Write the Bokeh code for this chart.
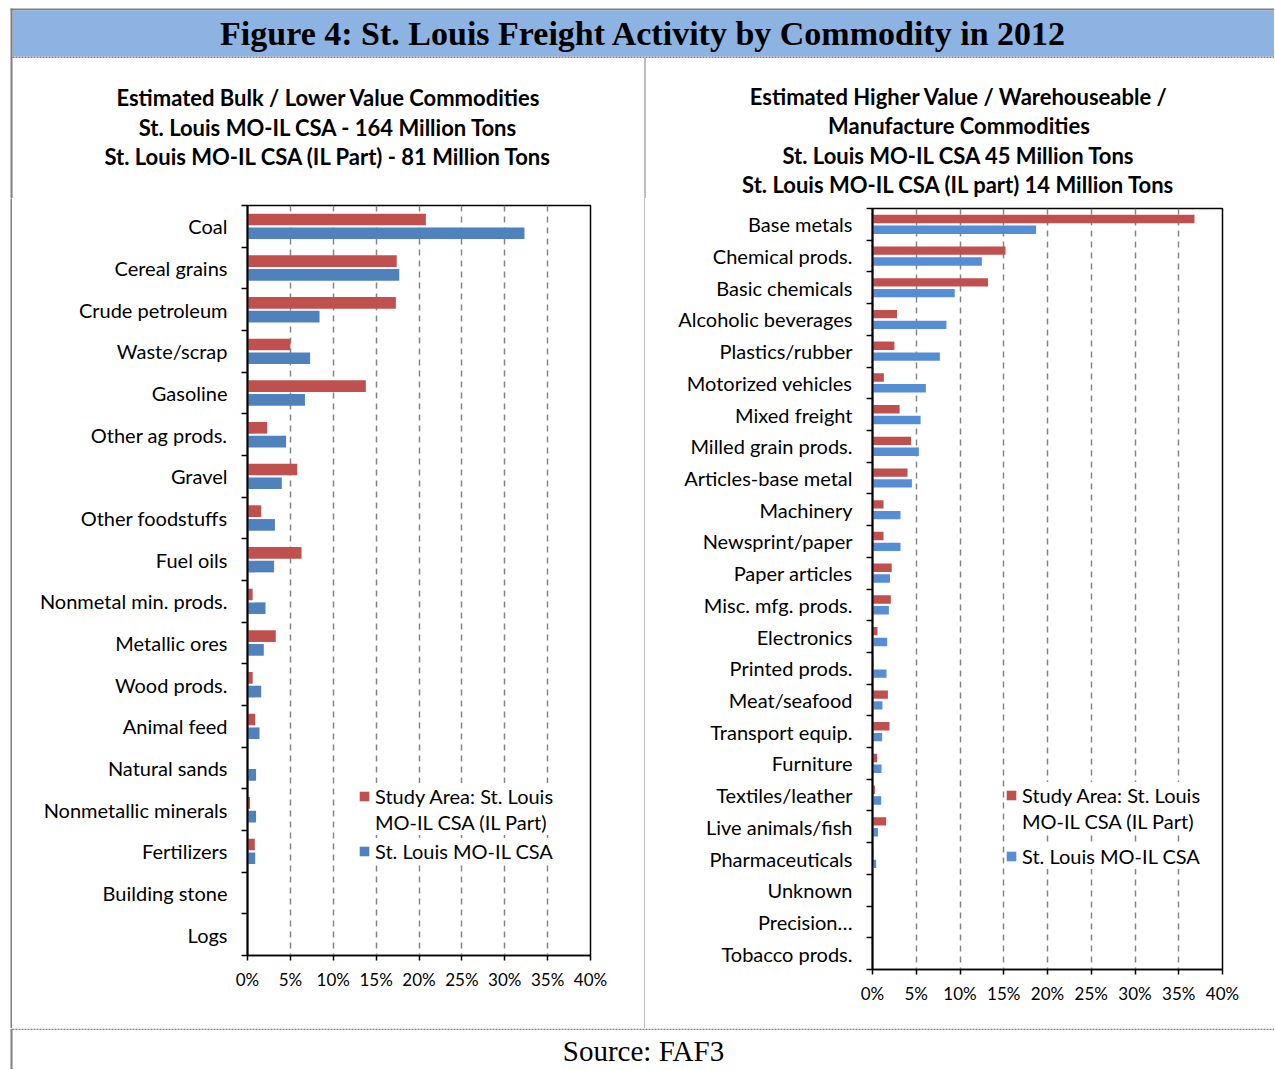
from bokeh.plotting import figure
from bokeh.models import (Range1d, FixedTicker, PrintfTickFormatter, ColumnDataSource,
                          Legend, LegendItem, Spacer)
from bokeh.layouts import column, row
from bokeh.core.properties import value
from bokeh.transform import dodge
from bokeh.embed import file_html
from bokeh.resources import INLINE

# ---------------- data ----------------
FIG_TITLE = "Figure 4: St. Louis Freight Activity by Commodity in 2012"
SOURCE = "Source: FAF3"
LEGEND_IL = ["Study Area: St. Louis", "MO-IL CSA (IL Part)"]
LEGEND_CSA = "St. Louis MO-IL CSA"

left_title = ["Estimated Bulk / Lower Value Commodities",
              "St. Louis MO-IL CSA - 164 Million Tons",
              "St. Louis MO-IL CSA (IL Part) - 81 Million Tons"]
left_cats = ["Coal", "Cereal grains", "Crude petroleum", "Waste/scrap", "Gasoline",
             "Other ag prods.", "Gravel", "Other foodstuffs", "Fuel oils",
             "Nonmetal min. prods.", "Metallic ores", "Wood prods.", "Animal feed",
             "Natural sands", "Nonmetallic minerals", "Fertilizers", "Building stone", "Logs"]
left_il = [20.8, 17.4, 17.3, 5.0, 13.8, 2.3, 5.8, 1.6, 6.3, 0.6, 3.3, 0.6, 0.9,
           0.05, 0.3, 0.85, 0.0, 0.0]
left_csa = [32.3, 17.7, 8.4, 7.3, 6.7, 4.5, 4.0, 3.2, 3.1, 2.1, 1.9, 1.6, 1.4,
            1.0, 1.0, 0.9, 0.0, 0.0]

right_title = ["Estimated Higher Value / Warehouseable /",
               "Manufacture Commodities",
               "St. Louis MO-IL CSA 45 Million Tons",
               "St. Louis MO-IL CSA (IL part) 14 Million Tons"]
right_cats = ["Base metals", "Chemical prods.", "Basic chemicals", "Alcoholic beverages",
              "Plastics/rubber", "Motorized vehicles", "Mixed freight", "Milled grain prods.",
              "Articles-base metal", "Machinery", "Newsprint/paper", "Paper articles",
              "Misc. mfg. prods.", "Electronics", "Printed prods.", "Meat/seafood",
              "Transport equip.", "Furniture", "Textiles/leather", "Live animals/fish",
              "Pharmaceuticals", "Unknown", "Precision\u2026", "Tobacco prods."]
right_il = [36.8, 15.2, 13.2, 2.8, 2.5, 1.3, 3.1, 4.4, 4.0, 1.26, 1.26, 2.2, 2.1,
            0.57, 0.1, 1.76, 1.94, 0.54, 0.27, 1.56, 0.1, 0.0, 0.0, 0.0]
right_csa = [18.7, 12.5, 9.4, 8.45, 7.7, 6.1, 5.5, 5.3, 4.5, 3.2, 3.2, 2.0, 1.87,
             1.68, 1.6, 1.14, 1.1, 1.03, 1.0, 0.62, 0.42, 0.0, 0.0, 0.0]

x_ticks = [0, 5, 10, 15, 20, 25, 30, 35, 40]

# ---------------- style ----------------
RED = "#C0504D"
BLUE_L = "#4F81BD"
BLUE_R = "#558ED5"
GRAY = "#7F7F7F"
HEAD = "#8DB3E2"
FONT = "Lato"
W = 1274
TOP_H = 198
MID_H = 830
BOT_H = 41


def hide_grids(f):
    f.xgrid.visible = False
    f.ygrid.visible = False


def px_fig(w, h):
    f = figure(width=w, height=h, x_range=Range1d(0, w), y_range=Range1d(h, 0),
               min_border=0, toolbar_location=None, x_axis_location=None,
               y_axis_location=None, output_backend="svg", outline_line_color=None,
               border_fill_color="white", background_fill_color="white", title=None)
    hide_grids(f)
    return f


def vline(w, h):
    f = figure(width=w, height=h, min_border=0, toolbar_location=None,
               x_axis_location=None, y_axis_location=None, output_backend="svg",
               border_fill_color=GRAY, background_fill_color=GRAY,
               outline_line_color=None, title=None)
    hide_grids(f)
    return f


# ---------------- header ----------------
top = px_fig(W, TOP_H)
top.quad(left=[10], right=[W], top=[8], bottom=[10], fill_color=GRAY, line_color=None)
top.quad(left=[12], right=[W], top=[10], bottom=[56], fill_color=HEAD, line_color=None)
top.segment(x0=[12], x1=[W], y0=[56.75], y1=[56.75], line_color=GRAY, line_width=1.5,
            line_dash="2 1")
top.quad(left=[10], right=[12], top=[8], bottom=[TOP_H], fill_color=GRAY, line_color=None)
top.segment(x0=[644.5], x1=[644.5], y0=[57.5], y1=[TOP_H], line_color=GRAY, line_width=1)
top.text(x=[643], y=[33], text=[FIG_TITLE], text_font=value("Liberation Serif"),
         text_font_style="bold", text_font_size="34px", text_align="center",
         text_baseline="middle", text_color="black")
top.text(x=[328] * 3, y=[97, 127, 156], text=left_title, text_font=value(FONT),
         text_font_style="bold", text_font_size="22px", text_align="center",
         text_baseline="middle", text_color="black")
top.text(x=[958.5] * 4, y=[96, 125, 155, 184], text=right_title, text_font=value(FONT),
         text_font_style="bold", text_font_size="22px", text_align="center",
         text_baseline="middle", text_color="black")

BORDER_T = 5
BORDER_B = 59


# ---------------- charts ----------------
def chart(cats, il, csa, blue, width, mb_left, frame_w, frame_h, bar_h, off, legA, legB):
    n = len(cats)
    p = figure(width=width, height=BORDER_T + frame_h + BORDER_B,
               x_range=Range1d(0, 40), y_range=Range1d(n, 0),
               toolbar_location=None, output_backend="svg", title=None,
               min_border_left=mb_left, min_border_right=width - mb_left - frame_w,
               min_border_top=BORDER_T, min_border_bottom=BORDER_B,
               outline_line_color="black", outline_line_width=1.5,
               border_fill_color="white", background_fill_color="white")
    centers = [i + 0.5 for i in range(n)]
    src = ColumnDataSource(dict(y=centers, il=il, csa=csa))
    r_il = p.hbar(y=dodge("y", -off), left=0, right="il", height=bar_h,
                  fill_color=RED, line_color=None, source=src)
    r_csa = p.hbar(y=dodge("y", off), left=0, right="csa", height=bar_h,
                   fill_color=blue, line_color=None, source=src)
    r_dummy = p.hbar(y=[], left=0, right=[], height=bar_h, fill_alpha=0, line_alpha=0)

    xa = p.xaxis[0]
    xa.ticker = FixedTicker(ticks=x_ticks)
    xa.formatter = PrintfTickFormatter(format="%d%%")
    xa.major_tick_out = 5
    xa.major_tick_in = 0
    xa.minor_tick_line_color = None
    xa.axis_line_width = 1.5
    xa.major_tick_line_width = 1.5
    xa.major_label_text_font = FONT
    xa.major_label_text_font_size = "17px"
    xa.major_label_text_color = "black"
    xa.major_label_standoff = 8

    ya = p.yaxis[0]
    ya.ticker = FixedTicker(ticks=centers, minor_ticks=list(range(n + 1)))
    ya.major_label_overrides = {c: name for c, name in zip(centers, cats)}
    ya.major_tick_out = 0
    ya.major_tick_in = 0
    ya.minor_tick_out = 6
    ya.minor_tick_in = 0
    ya.minor_tick_line_color = "black"
    ya.minor_tick_line_width = 1.5
    ya.axis_line_width = 2
    ya.major_label_text_font = FONT
    ya.major_label_text_font_size = "20px"
    ya.major_label_text_color = "black"
    ya.major_label_standoff = 14

    p.xgrid[0].ticker = FixedTicker(ticks=x_ticks[1:-1])
    p.xgrid[0].grid_line_color = "#858585"
    p.xgrid[0].grid_line_width = 1.5
    p.xgrid[0].grid_line_dash = "6 5"
    p.ygrid[0].visible = False

    common = dict(border_line_color=None, background_fill_color="white",
                  background_fill_alpha=1, padding=8, spacing=0, margin=0,
                  glyph_width=12, glyph_height=12, label_height=26, label_standoff=5,
                  label_text_font=FONT, label_text_font_size="20px",
                  label_text_color="black")
    la = Legend(items=[LegendItem(label=value(LEGEND_IL[0]), renderers=[r_il]),
                       LegendItem(label=value(LEGEND_IL[1]), renderers=[r_dummy])],
                location=legA, **common)
    lb = Legend(items=[LegendItem(label=value(LEGEND_CSA), renderers=[r_csa])],
                location=legB, **common)
    p.add_layout(la)
    p.add_layout(lb)
    return p


left = chart(left_cats, left_il, left_csa, BLUE_L, 632, 235, 343, 750, 0.28, 0.165,
             (111, 120), (111, 91))
right = chart(right_cats, right_il, right_csa, BLUE_R, 629, 227, 350, 761, 0.265, 0.17,
              (133, 135), (133, 100))

left_col = column(Spacer(width=632, height=2), left, Spacer(width=632, height=14))
right_col = column(Spacer(width=629, height=5), right)

# ---------------- footer ----------------
bot = px_fig(W, BOT_H)
bot.segment(x0=[12], x1=[W], y0=[0.75], y1=[0.75], line_color=GRAY, line_width=1.5,
            line_dash="2 1")
bot.quad(left=[10], right=[12], top=[0], bottom=[BOT_H], fill_color=GRAY, line_color=None)
bot.text(x=[643], y=[22], text=[SOURCE], text_font=value("Liberation Serif"),
         text_font_size="29px", text_align="center", text_baseline="middle",
         text_color="black")

layout = column(top,
                row(Spacer(width=10, height=MID_H), vline(2, MID_H), left_col,
                    vline(1, MID_H), right_col),
                bot)

open("out.html", "w").write(file_html(layout, INLINE))
